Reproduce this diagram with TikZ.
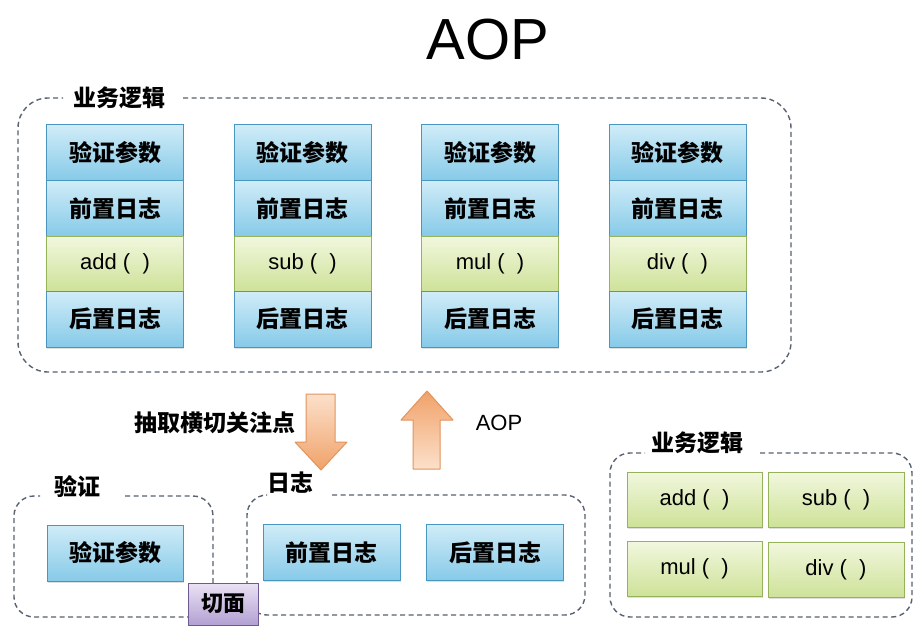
\documentclass[tikz,border=0pt]{standalone}
\usepackage{fontspec}
\setmainfont{Liberation Sans}
\newfontfamily\cjk{Noto Sans CJK SC}
\usetikzlibrary{positioning,shadows}
\definecolor{boxblue}{RGB}{134,202,232}
\definecolor{boxbluelight}{RGB}{208,236,248}
\definecolor{boxblueline}{RGB}{74,150,190}
\definecolor{boxgreen}{RGB}{206,226,152}
\definecolor{boxgreenlight}{RGB}{241,247,222}
\definecolor{boxgreenline}{RGB}{150,178,90}
\definecolor{cutpurple}{RGB}{178,160,210}
\definecolor{cutpurplelight}{RGB}{234,226,244}
\definecolor{cutpurpleline}{RGB}{110,90,145}
\definecolor{arroworange}{RGB}{240,162,105}
\definecolor{arrowpeach}{RGB}{252,224,203}
\definecolor{arrowline}{RGB}{226,148,92}
\definecolor{dashgray}{RGB}{88,98,112}

\tikzset{
 stepcell/.style={draw,line width=1pt,minimum width=137pt,minimum height=55.5pt,
  inner sep=0pt,outer sep=0pt,
  drop shadow={shadow xshift=.8pt,shadow yshift=-1.5pt,opacity=.25}},
 cnbox/.style={stepcell,draw=boxblueline,top color=boxbluelight,bottom color=boxblue,
  font=\cjk\bfseries\fontsize{23}{27}\selectfont},
 fnbox/.style={stepcell,draw=boxgreenline,top color=boxgreenlight,bottom color=boxgreen,
  font=\fontsize{22}{26}\selectfont},
 dashgroup/.style={draw=dashgray,line width=1.4pt,dash pattern=on 5pt off 3.5pt},
 grouplabel/.style={font=\cjk\bfseries\fontsize{23}{27}\selectfont},
 blockarrow/.style={draw=arrowline,line width=1pt,line join=round},
}

\begin{document}
\begin{tikzpicture}[x=1pt,y=-1pt]
 \useasboundingbox[fill=white] (0,0) rectangle (914,626);
 \node[font=\fontsize{58}{62}\selectfont] (title) at (488,40) {AOP};
 % Logika biznesowa z wplecionymi krokami.
 \draw[dashgroup,rounded corners=30pt]
  (183,98) -| (791,372) -| (18,98) -- (63,98);
 \node[grouplabel] (bizlabel) at (119,98) {业务逻辑};
 \node[cnbox] (check1) at (115,152.75) {验证参数};
 \node[cnbox,below=0pt of check1] (before1) {前置日志};
 \node[fnbox,below=0pt of before1] (add) {add (\ \ )};
 \node[cnbox,below=0pt of add] (after1) {后置日志};
 \node[cnbox] (check2) at (302.5,152.75) {验证参数};
 \node[cnbox,below=0pt of check2] (before2) {前置日志};
 \node[fnbox,below=0pt of before2] (sub) {sub (\ \ )};
 \node[cnbox,below=0pt of sub] (after2) {后置日志};
 \node[cnbox] (check3) at (490,152.75) {验证参数};
 \node[cnbox,below=0pt of check3] (before3) {前置日志};
 \node[fnbox,below=0pt of before3] (mul) {mul (\ \ )};
 \node[cnbox,below=0pt of mul] (after3) {后置日志};
 \node[cnbox] (check4) at (677.5,152.75) {验证参数};
 \node[cnbox,below=0pt of check4] (before4) {前置日志};
 \node[fnbox,below=0pt of before4] (div) {div (\ \ )};
 \node[cnbox,below=0pt of div] (after4) {后置日志};
 % Wyciaganie i wplatanie.
 \draw[blockarrow,top color=arrowpeach,bottom color=arroworange]
  (306,394) -- (335,394) -- (335,442) -- (347,442) -- (321,470)
  -- (295,442) -- (306,442) -- cycle;
 \node[grouplabel] (extract) at (215,423) {抽取横切关注点};
 \draw[blockarrow,top color=arroworange,bottom color=arrowpeach]
  (427,391) -- (453,420) -- (440,420) -- (440,469) -- (413,469)
  -- (413,420) -- (401,420) -- cycle;
 \node[font=\fontsize{22}{26}\selectfont] (weave) at (499,423) {AOP};
 % Aspekty po wydzieleniu.
 \draw[dashgroup,rounded corners=20pt]
  (125,496) -| (213,617) -| (14,496) -- (40,496);
 \node[grouplabel] (checklabel) at (77.5,487) {验证};
 \node[cnbox,minimum width=136pt,minimum height=56pt] (check0) at (115,553) {验证参数};
 \draw[dashgroup,rounded corners=20pt]
  (332,495) -| (585,615) -| (247,495) -- (266,495);
 \node[grouplabel] (loglabel) at (290,483) {日志};
 \node[cnbox,minimum height=56pt] (before0) at (331.5,552.5) {前置日志};
 \node[cnbox,minimum height=56pt] (after0) at (495,552.5) {后置日志};
 \node[stepcell,draw=cutpurpleline,top color=cutpurplelight,bottom color=cutpurple,
  minimum width=70pt,minimum height=42pt,font=\cjk\bfseries\fontsize{22}{26}\selectfont]
  (aspect) at (223,604) {切面};
 % Czysta logika biznesowa.
 \draw[dashgroup,rounded corners=20pt]
  (760,453) -| (912,617) -| (610,453) -- (645,453);
 \node[grouplabel] (purelabel) at (697,443) {业务逻辑};
 \node[fnbox,minimum width=135pt,minimum height=55pt] (add0) at (694.5,499.5) {add (\ \ )};
 \node[fnbox,minimum width=136pt,minimum height=55pt] (sub0) at (836,499.5) {sub (\ \ )};
 \node[fnbox,minimum width=135pt,minimum height=55pt] (mul0) at (694.5,569) {mul (\ \ )};
 \node[fnbox,minimum width=136pt,minimum height=55pt] (div0) at (836,570) {div (\ \ )};
\end{tikzpicture}
\end{document}
